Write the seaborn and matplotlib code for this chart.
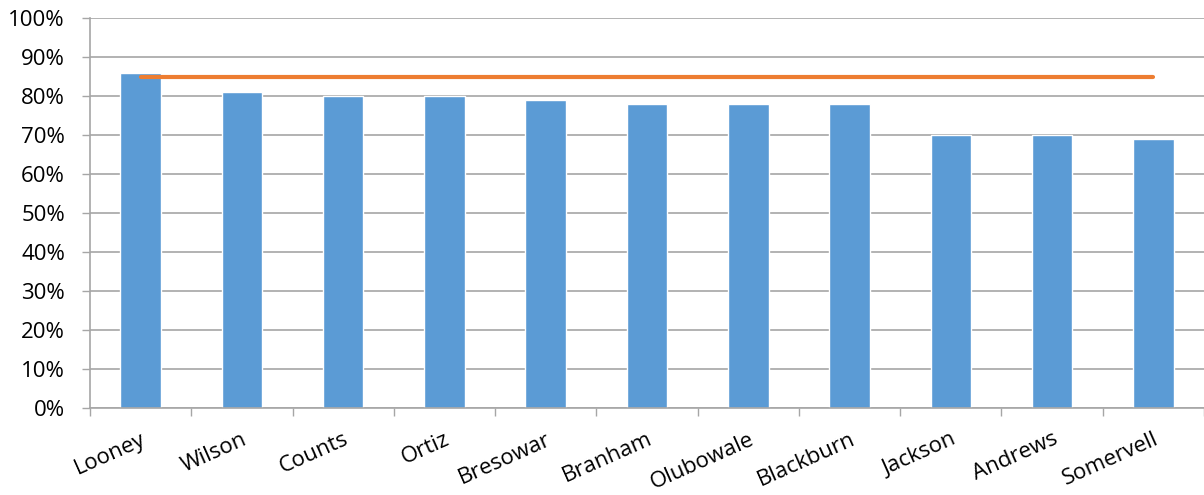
import matplotlib
matplotlib.use("Agg")
import matplotlib.pyplot as plt
import seaborn as sns
import numpy as np
import pandas as pd
from matplotlib.ticker import FixedLocator, PercentFormatter

names = ["Looney", "Wilson", "Counts", "Ortiz", "Bresowar", "Branham",
         "Olubowale", "Blackburn", "Jackson", "Andrews", "Somervell"]
scores = [86, 81, 80, 80, 79, 78, 78, 78, 70, 70, 69]
target = [85, 85, 85, 85, 85, 85, 85, 85, 85, 85, 85]
y_ticks = [0, 10, 20, 30, 40, 50, 60, 70, 80, 90, 100]

sns.set_theme(style="white")
plt.rcParams["font.family"] = ["Open Sans", "DejaVu Sans"]

df = pd.DataFrame({"name": names, "score": scores, "target": target})
df["pos"] = np.arange(len(df))

fig = plt.figure(figsize=(12.04, 4.95), dpi=100)
ax = fig.add_axes([90 / 1204, 87 / 495, 1 - 90 / 1204, 390 / 495])

sns.barplot(data=df, x="name", y="score", color="#5B9BD5", saturation=1,
            width=0.4, ax=ax, zorder=2)
sns.lineplot(data=df, x="pos", y="target", color="#ED7D31", linewidth=3,
             ax=ax, zorder=3)

ax.set_ylim(0, 100)
ax.set_xlim(-0.5, 10.47)
ax.yaxis.set_major_locator(FixedLocator(y_ticks))
ax.yaxis.set_major_formatter(PercentFormatter(decimals=0))
ax.grid(axis="y", color="#A6A6A6", linewidth=1.2, zorder=0)
ax.set_axisbelow(True)

ax.set_xticks(np.arange(len(names)))
ax.set_xticklabels(names, rotation=24, ha="right", rotation_mode="anchor")
ax.set_xticks(np.arange(-0.5, len(names) + 0.5, 1), minor=True)
ax.tick_params(axis="x", which="major", length=0, pad=15, labelsize=16,
               colors="black")
ax.tick_params(axis="x", which="minor", length=6, width=1, color="#A6A6A6",
               direction="out", bottom=True)
ax.tick_params(axis="y", length=6, width=1, color="#A6A6A6", labelsize=16,
               labelcolor="black", left=True, pad=12)
ax.set_xlabel("")
ax.set_ylabel("")

for s in ["top", "right"]:
    ax.spines[s].set_visible(False)
for s in ["left", "bottom"]:
    ax.spines[s].set_color("#A6A6A6")
    ax.spines[s].set_linewidth(1.2)

fig.savefig("out.png", dpi=100)
